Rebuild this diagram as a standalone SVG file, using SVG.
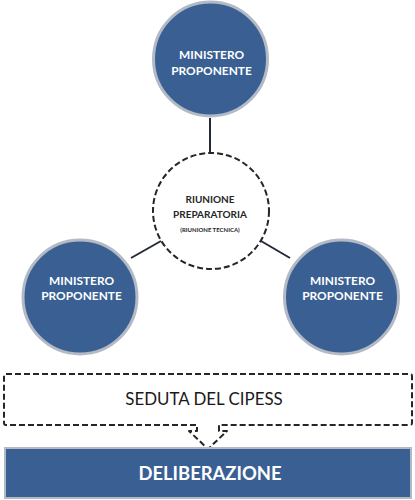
<svg xmlns="http://www.w3.org/2000/svg" width="415" height="500" viewBox="0 0 415 500">
<style>
.min{fill:#3A6093;stroke:#B3BAC6;stroke-width:3}
.mt{font-family:Lato,"Liberation Sans",Arial,sans-serif;font-weight:bold;font-size:11.9px;fill:#FFFFFF;text-anchor:middle}
.ct{font-family:Lato,"Liberation Sans",Arial,sans-serif;font-weight:bold;fill:#262626;text-anchor:middle}
.conn{stroke:#222A36;stroke-width:2;fill:none}
.dash{fill:#FFFFFF;stroke:#262626;stroke-width:2;stroke-dasharray:6 3}
</style>
<rect width="415" height="500" fill="#FFFFFF"/>
<g id="connectors">
<line class="conn" x1="210" y1="118" x2="210" y2="152"/>
<line class="conn" x1="131" y1="258" x2="161" y2="241"/>
<line class="conn" x1="261" y1="241" x2="290" y2="258"/>
</g>
<g id="ministero-top">
<circle class="min" cx="210.5" cy="59" r="57"/>
<text class="mt" x="211.5" y="59">MINISTERO</text>
<text class="mt" x="211.5" y="75">PROPONENTE</text>
</g>
<g id="riunione">
<circle class="dash" cx="211" cy="211" r="58"/>
<text class="ct" x="210" y="203" font-size="10">RIUNIONE</text>
<text class="ct" x="210" y="218" font-size="10">PREPARATORIA</text>
<text class="ct" x="210" y="232" font-size="6">(RIUNIONE TECNICA)</text>
</g>
<g id="ministero-left">
<circle class="min" cx="80" cy="297" r="57"/>
<text class="mt" x="81.5" y="285">MINISTERO</text>
<text class="mt" x="81.5" y="300">PROPONENTE</text>
</g>
<g id="ministero-right">
<circle class="min" cx="341.5" cy="297" r="57"/>
<text class="mt" x="342.5" y="285">MINISTERO</text>
<text class="mt" x="342.5" y="300">PROPONENTE</text>
</g>
<g id="seduta">
<path class="dash" stroke-linejoin="round" d="M6 374 H410 Q412 374 412 376 V423 Q412 425 410 425 H219 V431 H227 L208 449 L189 431 H197 V425 H6 Q4 425 4 423 V376 Q4 374 6 374 Z"/>
<text x="204" y="405" font-family="Lato,'Liberation Sans',Arial,sans-serif" font-size="16.9" fill="#1A1A1A" text-anchor="middle">SEDUTA DEL CIPESS</text>
</g>
<g id="deliberazione">
<rect x="5" y="448" width="406" height="50" fill="#3A6093" stroke="#B3BAC6" stroke-width="2"/>
<text x="210" y="480" font-family="Lato,'Liberation Sans',Arial,sans-serif" font-weight="bold" font-size="18.4" fill="#FFFFFF" text-anchor="middle">DELIBERAZIONE</text>
</g>
</svg>
